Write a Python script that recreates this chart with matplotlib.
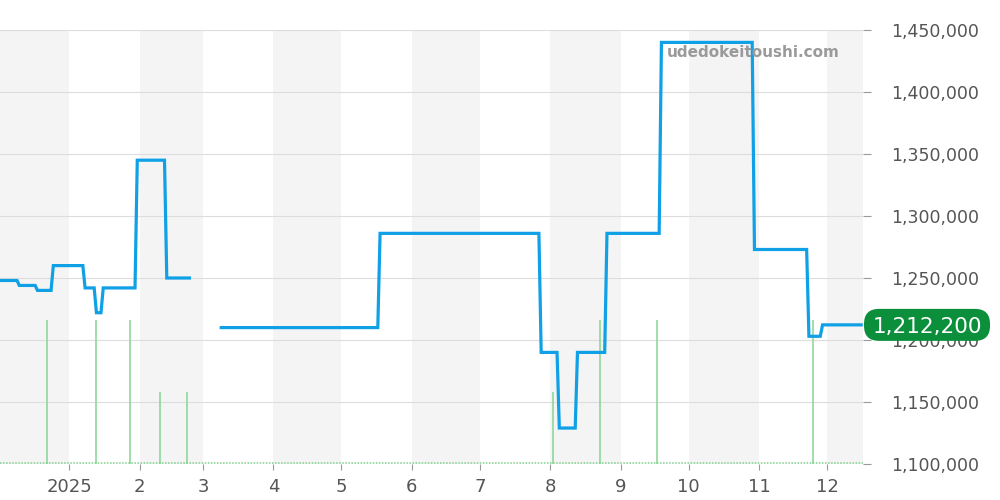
#-----------------------------------------------------------------------------------------------------------------------
# Price history chart - step line with volume bars and month bands
#-----------------------------------------------------------------------------------------------------------------------

import datetime as dt
import matplotlib
matplotlib.use("Agg")
import matplotlib.pyplot as plt
from matplotlib.patches import FancyBboxPatch
from matplotlib.transforms import IdentityTransform
import numpy as np

# price segments: start date, end date, price (JPY)
seg_start = ["2024-12-02", "2024-12-10", "2024-12-18", "2024-12-25", "2025-01-08", "2025-01-13", "2025-01-16",
             "2025-01-31", "2025-02-13", "2025-03-09", "2025-05-18", "2025-07-28", "2025-08-05", "2025-08-13",
             "2025-08-26", "2025-09-19", "2025-10-30", "2025-11-23", "2025-11-29"]
seg_end   = ["2024-12-09", "2024-12-17", "2024-12-24", "2025-01-07", "2025-01-12", "2025-01-15", "2025-01-30",
             "2025-02-12", "2025-02-23", "2025-05-17", "2025-07-27", "2025-08-04", "2025-08-12", "2025-08-25",
             "2025-09-18", "2025-10-29", "2025-11-22", "2025-11-28", "2025-12-16"]
seg_value = [1248000, 1244000, 1240000, 1260000, 1242000, 1222000, 1242000,
             1345000, 1250000, 1210000, 1286000, 1190000, 1129000, 1190000,
             1286000, 1440000, 1273000, 1203000, 1212200]

# volume (number of deals)
vol_dates  = ["2024-12-22", "2025-01-13", "2025-01-28", "2025-02-10", "2025-02-22",
              "2025-08-02", "2025-08-23", "2025-09-17", "2025-11-25"]
vol_counts = [2, 2, 2, 1, 1, 1, 2, 2, 2]

last_price = 1212200

#-----------------------------------------------------------------------------------------------------------------------
def d(s):
    return dt.datetime.strptime(s, "%Y-%m-%d")

xs, ys = [], []
for i, (s, e, v) in enumerate(zip(seg_start, seg_end, seg_value)):
    # break the line where there is no data for a while
    if i > 0 and (d(s) - d(seg_end[i-1])).days > 3:
        xs.append(d(s)); ys.append(np.nan)
    xs += [d(s), d(e)]
    ys += [v, v]

fig = plt.figure(figsize=(10, 5), dpi=100)
ax = fig.add_axes([0.0, 0.072, 0.863, 0.868])

x_min, x_max = dt.datetime(2024, 12, 1, 12), dt.datetime(2025, 12, 16, 20)

# alternate month bands (Dec 2024, Feb, Apr, ... shaded)
month_edges = [dt.datetime(2024, 12, 1)] + [dt.datetime(2025, m, 1) for m in range(1, 13)] + [dt.datetime(2026, 1, 1)]
for i in range(0, len(month_edges) - 1, 2):
    ax.axvspan(month_edges[i], month_edges[i+1], color="#f4f4f4", zorder=0, lw=0)

ax.set_xlim(x_min, x_max)
ax.set_ylim(1100000, 1450000)
ax.grid(axis="y", color="#dddddd", lw=0.8, zorder=1)
ax.set_axisbelow(True)

# volume on its own axis
ax2 = ax.twinx()
ax2.set_ylim(0, 6.03)
ax2.vlines([d(s) for s in vol_dates], 0, vol_counts, color="#8fd89a", lw=1.2)
ax2.axhline(0.015, color="#7fd08c", lw=1.1, ls=(0, (1, 1)))
ax2.set_yticks([])
for sp in ax2.spines.values():
    sp.set_visible(False)

ax3 = ax.twinx()
ax3.set_ylim(1100000, 1450000)
ax3.plot(xs, ys, color="#0fa0e6", lw=2.3, solid_joinstyle="miter", zorder=5)
ax3.set_xlim(x_min, x_max)

yt = np.arange(1100000, 1450001, 50000)
ax3.set_yticks(yt)
ax3.set_yticklabels([f"{v:,}" for v in yt], fontsize=12.5, color="#555555")
ax3.tick_params(axis="y", length=6, color="#999999", pad=14.5)
ax.set_yticks(yt)
ax.tick_params(axis="y", left=False, labelleft=False)

months = [dt.datetime(2025, m, 1) for m in range(1, 13)]
ax.set_xticks(months)
ax.set_xticklabels(["2025"] + [str(m) for m in range(2, 13)], fontsize=13, color="#555555")
ax.tick_params(axis="x", length=4, color="#999999", pad=6)

for a in (ax, ax3):
    for sp in a.spines.values():
        sp.set_visible(False)

ax3.text(0.9733, 0.949, "udedokeitoushi.com", transform=ax3.transAxes, ha="right", va="center",
         fontsize=11, fontweight="bold", color="#9a9a9a", zorder=6)

# last price badge, placed in display pixels
fig.canvas.draw()
ypix = ax3.transData.transform((0, last_price))[1]
bw, bh = 126, 32
badge = FancyBboxPatch((864, ypix - bh / 2), bw, bh, transform=IdentityTransform(),
                       boxstyle="round,pad=0,rounding_size=15", fc="#0b8f3a", ec="none",
                       zorder=10, clip_on=False)
fig.patches.append(badge)
fig.text((864 + bw / 2) / fig.bbox.width, ypix / fig.bbox.height, f"{last_price:,}",
         ha="center", va="center_baseline", fontsize=15.5, color="white", zorder=11)

fig.savefig("out.png", dpi=100)
